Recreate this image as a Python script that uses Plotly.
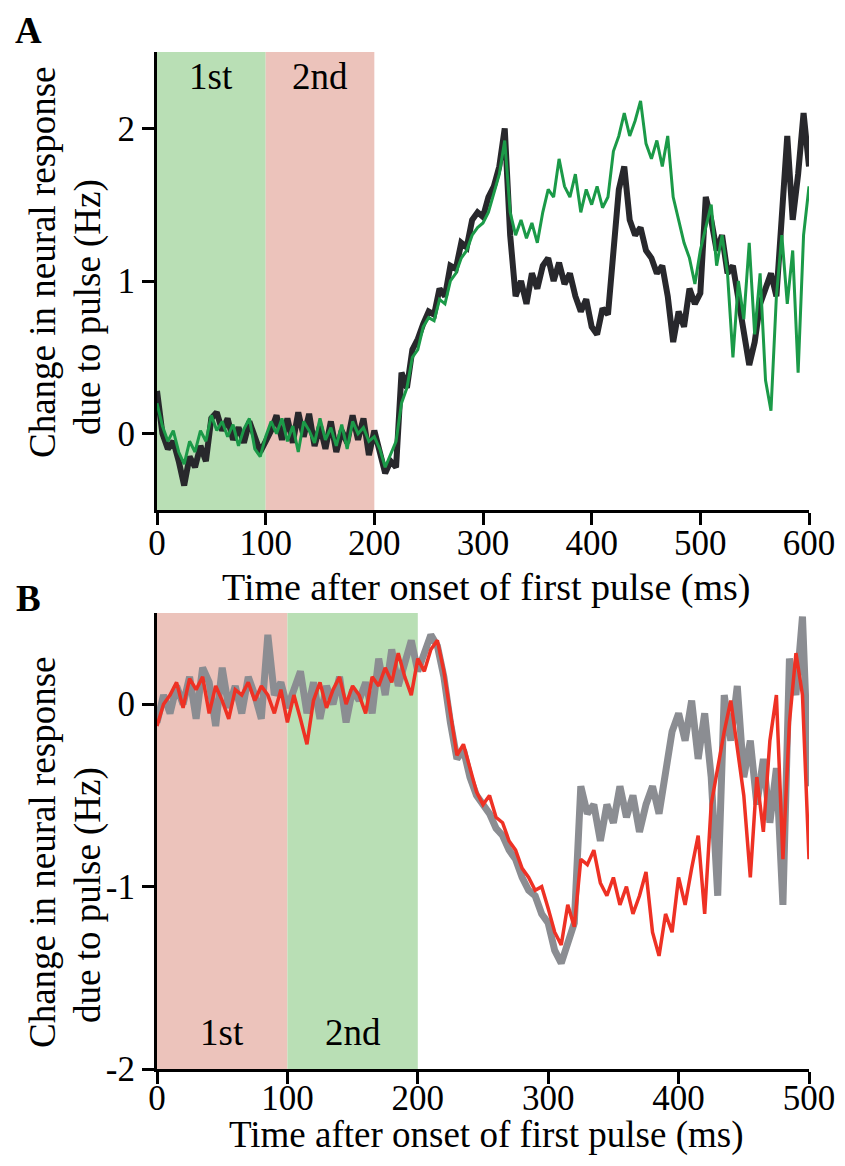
import plotly.graph_objects as go

# time axes (ms), 5 ms steps
t_a = list(range(0, 605, 5))
t_b = list(range(0, 505, 5))

# panel A: change in response (Hz)
a_black = [0.28, 0.00, -0.10, -0.05, -0.18, -0.34, -0.15, -0.22, -0.08, -0.18,
           0.10, 0.14, 0.02, 0.10, -0.04, 0.04, -0.06, 0.08, -0.02, -0.12,
           -0.05, 0.02, 0.12, -0.04, 0.10, -0.06, 0.14, -0.02, 0.13, -0.08,
           0.05, -0.10, 0.08, -0.12, 0.02, -0.06, 0.12, -0.04, 0.10, -0.14,
           0.02, -0.12, -0.26, -0.18, -0.22, 0.40, 0.30, 0.55, 0.62, 0.72,
           0.80, 0.78, 0.95, 0.90, 1.10, 1.08, 1.25, 1.22, 1.40, 1.45,
           1.42, 1.55, 1.62, 1.75, 2.00, 1.30, 0.90, 1.00, 0.85, 1.05,
           0.95, 1.10, 1.15, 1.00, 1.12, 0.98, 1.05, 0.90, 0.80, 0.88,
           0.70, 0.65, 0.82, 0.78, 1.20, 1.60, 1.75, 1.40, 1.30, 1.35,
           1.20, 1.15, 1.05, 1.10, 0.90, 0.60, 0.80, 0.70, 0.95, 0.85,
           0.92, 1.55, 1.40, 1.20, 1.30, 1.05, 1.10, 0.90, 0.70, 0.45,
           0.60, 0.85, 0.95, 1.05, 0.90, 1.50, 1.95, 1.40, 1.70, 2.10,
           1.75]
a_green = [0.20, 0.05, -0.05, 0.02, -0.12, -0.20, -0.05, -0.12, 0.02, -0.05,
           0.12, 0.02, 0.08, -0.02, 0.06, -0.08, 0.03, 0.10, -0.10, -0.15,
           -0.02, 0.08, 0.00, 0.10, -0.05, 0.05, -0.12, 0.08, 0.02, -0.06,
           0.10, -0.04, 0.04, -0.08, 0.06, -0.10, 0.08, 0.00, 0.04, -0.05,
           -0.02, -0.10, -0.22, -0.14, -0.05, 0.20, 0.30, 0.50, 0.55, 0.70,
           0.76, 0.74, 0.88, 0.85, 1.00, 1.05, 1.15, 1.20, 1.30, 1.35,
           1.38, 1.45, 1.58, 1.70, 1.92, 1.45, 1.30, 1.40, 1.28, 1.38,
           1.25, 1.45, 1.60, 1.55, 1.80, 1.62, 1.55, 1.70, 1.45, 1.60,
           1.50, 1.62, 1.48, 1.55, 1.85, 1.95, 2.10, 1.95, 2.05, 2.18,
           1.90, 1.80, 1.92, 1.75, 1.95, 1.55, 1.40, 1.25, 1.15, 0.98,
           1.20, 1.35, 1.50, 1.10, 1.30, 1.05, 0.50, 1.00, 0.75, 1.25,
           0.65, 1.05, 0.35, 0.15, 0.90, 1.30, 0.85, 1.20, 0.40, 1.30,
           1.62]

# panel B
b_gray = [-0.10, 0.05, -0.05, 0.10, 0.00, 0.15, -0.08, 0.20, 0.12, -0.12,
          0.20, -0.02, 0.10, -0.05, 0.15, 0.05, -0.08, 0.38, 0.05, 0.12,
          -0.02, 0.08, 0.18, -0.05, 0.12, -0.08, 0.10, 0.00, 0.15, -0.10,
          0.08, 0.02, 0.12, -0.05, 0.25, 0.05, 0.30, 0.10, 0.22, 0.35,
          0.18, 0.28, 0.38, 0.32, 0.15, -0.10, -0.30, -0.25, -0.40, -0.50,
          -0.55, -0.60, -0.68, -0.72, -0.80, -0.85, -0.95, -1.02, -1.05, -1.15,
          -1.20, -1.35, -1.42, -1.30, -1.20, -0.45, -0.60, -0.55, -0.75, -0.55,
          -0.65, -0.45, -0.62, -0.50, -0.70, -0.55, -0.45, -0.60, -0.35, -0.15,
          -0.05, -0.20, 0.02, -0.30, -0.05, -0.40, -1.05, 0.05, -0.20, 0.10,
          -0.40, -0.20, -0.55, -0.30, -0.65, -0.35, -1.10, 0.25, 0.05, 0.48,
          -0.45]
b_red = [-0.12, 0.00, 0.05, 0.12, -0.02, 0.14, 0.08, 0.15, -0.05, 0.10,
         0.02, -0.08, 0.08, 0.05, 0.12, 0.02, 0.10, 0.05, -0.05, 0.08,
         -0.10, 0.05, -0.08, -0.22, 0.02, 0.12, -0.02, 0.08, 0.15, 0.00,
         0.10, 0.05, -0.05, 0.15, 0.10, 0.20, 0.12, 0.28, 0.15, 0.05,
         0.25, 0.18, 0.30, 0.35, 0.18, -0.05, -0.28, -0.22, -0.35, -0.48,
         -0.55, -0.50, -0.62, -0.65, -0.75, -0.80, -0.90, -0.95, -1.02, -1.00,
         -1.12, -1.25, -1.32, -1.10, -1.22, -0.85, -0.88, -0.80, -0.98, -1.05,
         -0.95, -1.10, -1.00, -1.15, -1.05, -0.92, -1.25, -1.38, -1.15, -1.25,
         -0.95, -1.10, -0.90, -0.72, -1.15, -0.55, -0.35, -0.15, 0.02, -0.25,
         -0.50, -0.95, -0.40, -0.70, -0.20, 0.05, -0.85, -0.10, 0.28, 0.05,
         -0.85]

ya_ticks = [0, 1, 2]
yb_ticks = [-2, -1, 0]
yb_labels = ["-2", "-1", "0"]

# the page has an 8px body margin, keep the figure inside the window
OFF = 8
W, H = 845 - 2 * OFF, 1166 - 2 * OFF


def px(x):
    return (x - OFF) / W


def py(y):
    return 1 - (y - OFF) / H


SERIF = "Liberation Serif"
GREEN_BG = "#b9dfb5"
PINK_BG = "#ecc3bb"

fig = go.Figure()
fig.add_trace(go.Scatter(x=t_a, y=a_black, mode="lines", line=dict(color="#28282c", width=6),
                         xaxis="x", yaxis="y"))
fig.add_trace(go.Scatter(x=t_a, y=a_green, mode="lines", line=dict(color="#1b9a48", width=3),
                         xaxis="x", yaxis="y"))
fig.add_trace(go.Scatter(x=t_b, y=b_gray, mode="lines", line=dict(color="#8b8d92", width=7),
                         xaxis="x2", yaxis="y2"))
fig.add_trace(go.Scatter(x=t_b, y=b_red, mode="lines", line=dict(color="#ee3124", width=3.5),
                         xaxis="x2", yaxis="y2"))

# pulse windows
for x0, x1, col, xr, yr in [(0, 100, GREEN_BG, "x", "y domain"), (100, 200, PINK_BG, "x", "y domain"),
                            (0, 100, PINK_BG, "x2", "y2 domain"), (100, 200, GREEN_BG, "x2", "y2 domain")]:
    fig.add_shape(type="rect", x0=x0, x1=x1, y0=0, y1=1, xref=xr, yref=yr,
                  fillcolor=col, line_width=0, layer="below")

ax = dict(showline=True, linewidth=3, linecolor="black", ticks="outside", ticklen=12,
          tickwidth=2.5, tickcolor="black", showgrid=False, zeroline=False,
          ticklabeloverflow="allow", automargin=False,
          tickfont=dict(family=SERIF, size=35, color="black"))

xd = [px(157), px(809)]
fig.update_layout(
    width=W, height=H, margin=dict(l=0, r=0, t=0, b=0, autoexpand=False),
    paper_bgcolor="white", plot_bgcolor="white", showlegend=False,
    xaxis=dict(ax, domain=xd, range=[0, 600], tickvals=[0, 100, 200, 300, 400, 500, 600],
               anchor="y", ticklabelstandoff=-12),
    yaxis=dict(ax, domain=[py(510), py(52)], range=[-0.5, 2.5], tickvals=ya_ticks,
               anchor="x"),
    xaxis2=dict(ax, domain=xd, range=[0, 500], tickvals=[0, 100, 200, 300, 400, 500],
                anchor="y2", ticklabelstandoff=-16),
    yaxis2=dict(ax, domain=[py(1069), py(613)], range=[-2, 0.5], tickvals=yb_ticks,
                ticktext=yb_labels, anchor="x2"),
)

f = dict(family=SERIF, size=37, color="black")
fx = dict(family=SERIF, size=38, color="black")
ann = [
    dict(text="1st", x=50, y=2.34, xref="x", yref="y"),
    dict(text="2nd", x=150, y=2.34, xref="x", yref="y"),
    dict(text="1st", x=50, y=-1.8, xref="x2", yref="y2"),
    dict(text="2nd", x=150, y=-1.8, xref="x2", yref="y2"),
    dict(text="<b>A</b>", x=px(28), y=1, xref="paper", yref="paper", yanchor="top"),
    dict(text="<b>B</b>", x=px(28), y=py(598), xref="paper", yref="paper"),
    dict(text="Change in neural response", x=px(42), y=py(263), xref="paper", yref="paper",
         textangle=-90),
    dict(text="due to pulse (Hz)", x=px(88), y=py(307), xref="paper", yref="paper",
         textangle=-90),
    dict(text="Change in neural response", x=px(42), y=py(853), xref="paper", yref="paper",
         textangle=-90),
    dict(text="due to pulse (Hz)", x=px(88), y=py(895), xref="paper", yref="paper",
         textangle=-90),
    dict(text="Time after onset of first pulse (ms)", x=px(486), y=py(587), xref="paper",
         yref="paper", font=fx),
    dict(text="Time after onset of first pulse (ms)", x=px(486), y=py(1135), xref="paper",
         yref="paper", font=dict(fx, size=37)),
]
for a in ann:
    a.setdefault("font", f)
    a.setdefault("yanchor", "middle")
    fig.add_annotation(**a, showarrow=False, xanchor="center")

fig.write_html("out.html")
